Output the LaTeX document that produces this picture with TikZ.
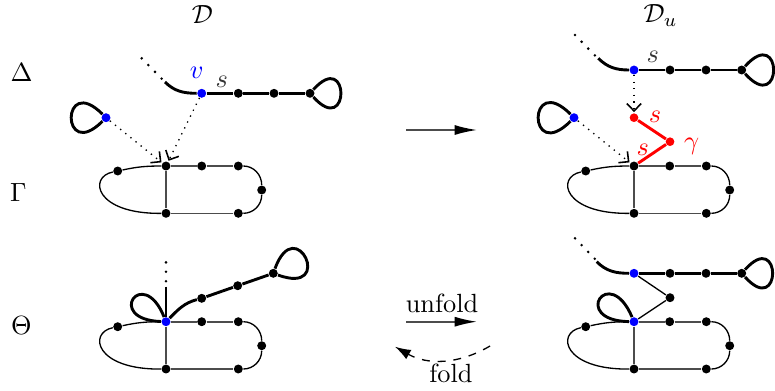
\documentclass[tikz,border=0pt]{standalone}
\usetikzlibrary{arrows.meta}
\definecolor{edgegray}{gray}{0.3}
\newcommand{\graphloop}[4]{%
  \draw[tline] (#1) .. controls +({#4*cos(#2-#3)},{#4*sin(#2-#3)}) and +({#4*cos(#2+#3)},{#4*sin(#2+#3)}) .. (#1);}
\newcommand{\gammagr}[4]{%
  \begin{scope}[shift={(#2,#3)}]
    \node[#4] (#1a) at (166,166) {};
    \node[dot] (#1b) at (201.7,166) {};
    \node[dot] (#1c) at (238.3,166) {};
    \node[dot] (#1d) at (261.7,190) {};
    \node[dot] (#1e) at (238.3,213.3) {};
    \node[dot] (#1f) at (166,213.3) {};
    \node[dot] (#1g) at (117.7,171) {};
    \coordinate (#1h) at (88,177);
    \coordinate (#1i) at (95,214);
  \end{scope}
  \draw[sline] (#1a) -- (#1b) -- (#1c) (#1a) -- (#1f) -- (#1e);
  \draw[cline] (#1a) to[out=180,in=12] (#1g) .. controls (#1h) and (#1i) .. (#1f);
  \draw[cline] (#1c) to[out=0,in=90] (#1d) to[out=-90,in=0] (#1e);
}
\begin{document}
\begin{tikzpicture}[x=0.38pt,y=-0.38pt,
  dot/.style={circle,fill=black,inner sep=0pt,minimum size=3.4pt},
  bdot/.style={dot,fill=blue},
  rdot/.style={dot,fill=red,minimum size=3.3pt},
  lbl/.style={inner sep=0pt},
  tline/.style={line width=1.1pt},
  sline/.style={line width=0.6pt,draw=edgegray},
  cline/.style={line width=0.5pt},
  fdots/.style={line width=1.1pt,dash pattern=on 0pt off 3.6pt,line cap=round},
  darr/.style={line width=0.5pt,dotted,-{Straight Barb[length=2.8pt,width=5.5pt,line width=0.6pt,sep=0.3pt]}},
  bigarr/.style={line width=0.6pt,draw=edgegray,-{Latex[length=8.5pt,width=3.8pt,black]}},
]
\useasboundingbox (0,0) rectangle (775,390);

% titles and row labels
\node[lbl] (tD) at (202.5,15) {$\mathcal{D}$};
\node[lbl,anchor=west] (tDu) at (643,15.7) {$\mathcal{D}_u$};
\node[lbl] (lD) at (21.7,73) {$\Delta$};
\node[lbl] (lG) at (18.3,192.5) {$\Gamma$};
\node[lbl] (lT) at (21.3,325) {$\Theta$};

% ---------- top left ----------
\coordinate (p0) at (141.7,58.3);
\coordinate (p1) at (163,80);
\coordinate (p2) at (165,82);
\node[bdot] (v) at (201.7,93.3) {};
\node[dot] (v1) at (238.3,93.3) {};
\node[dot] (v2) at (274,93.3) {};
\node[dot] (v3) at (310,93.3) {};
\draw[fdots] (p0) -- (p1);
\draw[tline] (p2) to[out=-45,in=180] (v);
\draw[tline] (v) -- (v1) -- (v2) -- (v3);
\graphloop{v3}{0}{48}{60}
\node[lbl,text=blue] (vl) at (196.7,73.3) {$v$};
\node[lbl,text=black!80] (sl) at (221.7,81.7) {$s$};
\node[bdot] (u) at (106,117.7) {};
\graphloop{u}{180}{45}{64}
\gammagr{L}{0}{0}{dot}
\draw[darr] (u) -- (La);
\draw[darr] (v) -- (La);

% ---------- top right ----------
\coordinate (q0) at (575,35);
\coordinate (q1) at (596,56.5);
\coordinate (q2) at (598.3,58.3);
\node[bdot] (w) at (634,70) {};
\node[dot] (w1) at (670,70) {};
\node[dot] (w2) at (706,70) {};
\node[dot] (w3) at (741.7,70) {};
\draw[fdots] (q0) -- (q1);
\draw[tline] (q2) to[out=-45,in=180] (w);
\draw[tline] (w) -- (w1) -- (w2) -- (w3);
\graphloop{w3}{0}{48}{62}
\node[lbl,text=black!80] (sr) at (652.7,57.3) {$s$};
\node[bdot] (x) at (574,117.7) {};
\graphloop{x}{180}{45}{66}
\gammagr{R}{468}{0}{dot}
\node[rdot] (r1) at (634,117.7) {};
\node[rdot] (r2) at (670,141.7) {};
\draw[red,line width=1.1pt] (r1) -- (r2) -- (Ra);
\draw[darr] (w) -- (r1);
\draw[darr] (x) -- (Ra);
\node[lbl,text=red] (rs1) at (655,116.7) {$s$};
\node[lbl,text=red] (rg) at (691.7,146) {$\gamma$};
\node[lbl,text=red] (rs2) at (642.7,150) {$s$};

% ---------- middle arrows ----------
\coordinate (a1) at (406,130);
\coordinate (a2) at (477,130);
\draw[bigarr] (a1) -- (a2);
\coordinate (b1) at (406,321.7);
\coordinate (b2) at (477,321.7);
\draw[bigarr] (b1) -- (b2);
\node[lbl] (unf) at (442,303.7) {unfold};
\coordinate (f1) at (490,346);
\coordinate (f2) at (395,346.7);
\draw[dashed,line width=0.5pt,-{Latex[length=6pt,width=4pt]}] (f1) to[bend left=30] (f2);
\node[lbl] (fld) at (451,373.3) {fold};

% ---------- bottom left ----------
\gammagr{BL}{0}{155.7}{bdot}
\coordinate (t0) at (166,262.3);
\coordinate (t1) at (166,282.3);
\coordinate (t2) at (166,286.7);
\draw[fdots] (t0) -- (t1);
\draw[tline] (t2) -- (BLa);
\node[dot] (k1) at (201.7,298.3) {};
\node[dot] (k2) at (237.7,285.7) {};
\node[dot] (k3) at (273.3,273.3) {};
\draw[tline] (BLa) to[out=45,in=195] (k1) -- (k2) -- (k3);
\graphloop{k3}{-25}{45}{66}
\graphloop{BLa}{215}{33}{62}

% ---------- bottom right ----------
\coordinate (s0) at (575,238.3);
\coordinate (s1) at (595,259);
\coordinate (s2) at (596.7,261.7);
\node[bdot] (y) at (634,273.3) {};
\node[dot] (y1) at (670,273.3) {};
\node[dot] (y2) at (706,273.3) {};
\node[dot] (y3) at (741.7,273.3) {};
\draw[fdots] (s0) -- (s1);
\draw[tline] (s2) to[out=-45,in=180] (y);
\draw[tline] (y) -- (y1) -- (y2) -- (y3);
\graphloop{y3}{0}{48}{60}
\gammagr{BR}{468}{155.7}{bdot}
\node[dot] (m) at (670,297.7) {};
\draw[cline] (y) -- (m) -- (BRa);
\graphloop{BRa}{214}{33}{64}
\end{tikzpicture}
\end{document}
